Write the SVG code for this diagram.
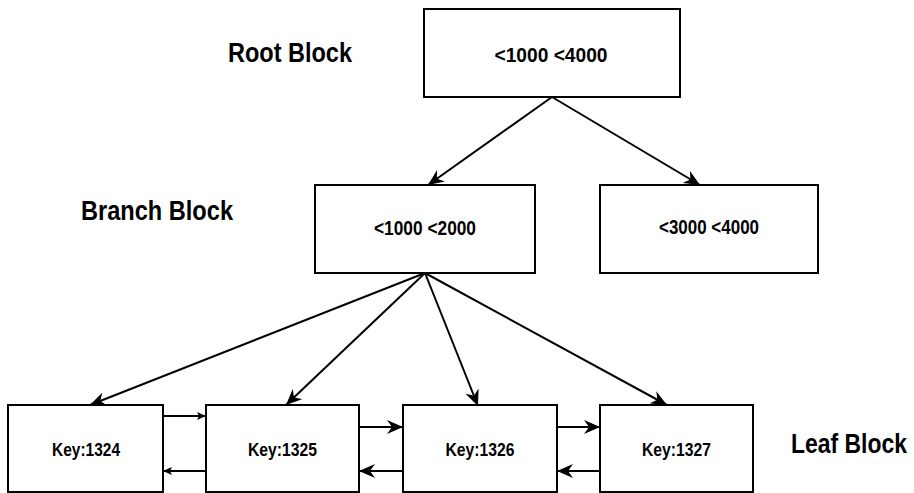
<svg xmlns="http://www.w3.org/2000/svg" width="914" height="493" viewBox="0 0 914 493">
  <style>
    .box { fill: #ffffff; stroke: #000000; stroke-width: 2; }
    .t { font-family: "Liberation Sans Narrow", "Liberation Sans", Arial, sans-serif; font-weight: bold; fill: #000000; text-anchor: middle; }
    .lbl { font-size: 27px; }
    .nt { font-size: 20px; }
    .kt { font-size: 18px; }
    .c { stroke: #000000; stroke-width: 2; fill: none; }
    .big { marker-end: url(#ah); }
    .sm { marker-end: url(#ahs); }
  </style>
  <defs>
    <marker id="ah" viewBox="0 0 16 14" markerWidth="16" markerHeight="14" refX="16" refY="7" orient="auto" markerUnits="userSpaceOnUse">
      <path d="M0,0 L16,7 L0,14 L5,7 z" fill="#000000"/>
    </marker>
    <marker id="ahs" viewBox="0 0 9 8" markerWidth="9" markerHeight="8" refX="9" refY="4" orient="auto" markerUnits="userSpaceOnUse">
      <path d="M0,0 L9,4 L0,8 L2,4 z" fill="#000000"/>
    </marker>
  </defs>

  <g id="labels">
    <text class="t lbl" x="290" y="62" textLength="124" lengthAdjust="spacingAndGlyphs">Root Block</text>
    <text class="t lbl" x="157" y="220" textLength="152" lengthAdjust="spacingAndGlyphs">Branch Block</text>
    <text class="t lbl" transform="translate(849,453) scale(0.85,1)" x="0" y="0">Leaf Block</text>
  </g>

  <g id="root">
    <rect class="box" x="424" y="9" width="256" height="88"/>
    <text class="t nt" x="551" y="62" textLength="113" lengthAdjust="spacingAndGlyphs">&lt;1000 &lt;4000</text>
  </g>
  <g id="branch1">
    <rect class="box" x="315" y="185" width="220" height="88"/>
    <text class="t nt" x="425" y="235" textLength="102" lengthAdjust="spacingAndGlyphs">&lt;1000 &lt;2000</text>
  </g>
  <g id="branch2">
    <rect class="box" x="600" y="185" width="218" height="88"/>
    <text class="t nt" x="709" y="234" textLength="100" lengthAdjust="spacingAndGlyphs">&lt;3000 &lt;4000</text>
  </g>
  <g id="leaf1">
    <rect class="box" x="8" y="405" width="155" height="87"/>
    <text class="t kt" x="86" y="456" textLength="68" lengthAdjust="spacingAndGlyphs">Key:1324</text>
  </g>
  <g id="leaf2">
    <rect class="box" x="206" y="405" width="153" height="87"/>
    <text class="t kt" x="282.5" y="456" textLength="69" lengthAdjust="spacingAndGlyphs">Key:1325</text>
  </g>
  <g id="leaf3">
    <rect class="box" x="403" y="405" width="154" height="87"/>
    <text class="t kt" x="480" y="456" textLength="69" lengthAdjust="spacingAndGlyphs">Key:1326</text>
  </g>
  <g id="leaf4">
    <rect class="box" x="600" y="405" width="153" height="87"/>
    <text class="t kt" x="676.5" y="456" textLength="69" lengthAdjust="spacingAndGlyphs">Key:1327</text>
  </g>

  <g id="connectors">
    <line class="c big" x1="552" y1="97" x2="428" y2="185"/>
    <line class="c big" x1="552" y1="97" x2="700" y2="185"/>
    <line class="c big" x1="425" y1="273" x2="90" y2="405"/>
    <line class="c big" x1="425" y1="273" x2="286" y2="405"/>
    <line class="c big" x1="425" y1="273" x2="478" y2="406"/>
    <line class="c big" x1="425" y1="273" x2="667" y2="405"/>
    <line class="c sm" x1="163" y1="416" x2="206" y2="416"/>
    <line class="c sm" x1="206" y1="471" x2="163" y2="471"/>
    <line class="c big" x1="359" y1="427" x2="403" y2="427"/>
    <line class="c big" x1="403" y1="471" x2="359" y2="471"/>
    <line class="c big" x1="557" y1="427" x2="600" y2="427"/>
    <line class="c big" x1="600" y1="471" x2="557" y2="471"/>
  </g>
</svg>
